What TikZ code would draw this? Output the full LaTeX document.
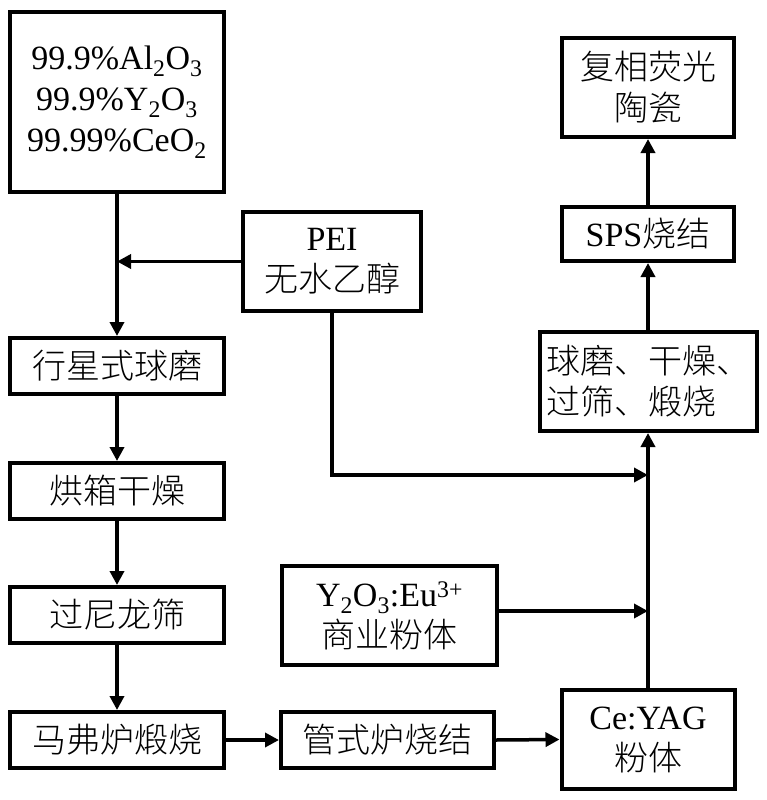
\documentclass[tikz,border=0pt]{standalone}
\usepackage{fontspec}
\setmainfont{Liberation Serif}
\newfontfamily\cjk[UprightFont=* Light]{Noto Sans CJK SC}
\usetikzlibrary{arrows.meta}
\begin{document}
\begin{tikzpicture}[x=1pt,y=-1pt,
  box/.style={draw,line width=4pt,inner sep=0pt,align=center,
    font=\fontsize{34}{41}\selectfont},
  conn/.style={line width=3.5pt,-{Triangle[length=14pt,width=14pt]}}]
\useasboundingbox (0,0) rectangle (766,800);
\node[box,minimum width=214pt,minimum height=179pt] (raw) at (117,102)
  {99.9\%Al\textsubscript{2}O\textsubscript{3}\\99.9\%Y\textsubscript{2}O\textsubscript{3}\\99.99\%CeO\textsubscript{2}};
\node[box,minimum width=178pt,minimum height=99pt] (pei) at (332,261.5)
  {PEI\\{\cjk 无水乙醇}};
\node[box,minimum width=214pt,minimum height=56pt] (planet) at (117,366) {\cjk 行星式球磨};
\node[box,minimum width=214pt,minimum height=56pt] (oven) at (117,491) {\cjk 烘箱干燥};
\node[box,minimum width=214pt,minimum height=56pt] (sieve) at (117,615) {\cjk 过尼龙筛};
\node[box,minimum width=214pt,minimum height=56pt] (muffle) at (117,740) {\cjk 马弗炉煅烧};
\node[box,minimum width=213pt,minimum height=56pt] (tube) at (387.5,740) {\cjk 管式炉烧结};
\node[box,minimum width=173pt,minimum height=99pt] (ceyag) at (648,739.5)
  {Ce:YAG\\{\cjk 粉体}};
\node[box,minimum width=215pt,minimum height=99pt] (eu) at (389.5,615.5)
  {Y\textsubscript{2}O\textsubscript{3}:Eu\textsuperscript{3+}\\{\cjk 商业粉体}};
\node[box,minimum width=217pt,minimum height=99pt,align=left] (mill) at (648,381.5)
  {\cjk 球磨、干燥、\\\cjk 过筛、煅烧};
\node[box,minimum width=172pt,minimum height=54pt] (sps) at (648,234) {SPS{\cjk 烧结}};
\node[box,minimum width=172pt,minimum height=99pt] (final) at (648,87.5)
  {{\cjk 复相荧光}\\{\cjk 陶瓷}};
\coordinate (j1) at (648,475);
\coordinate (j2) at (648,611);
\coordinate (j0) at (117,261.5);
\draw[conn] (raw.south) -- (planet.north);
\draw[conn] (pei.west) -- (j0);
\draw[conn] (planet.south) -- (oven.north);
\draw[conn] (oven.south) -- (sieve.north);
\draw[conn] (sieve.south) -- (muffle.north);
\draw[conn] (muffle.east) -- (tube.west);
\draw[conn] (tube.east) -- (ceyag.west);
\draw[conn] (ceyag.north) -- (mill.south);
\draw[conn] (pei.south) |- (j1);
\draw[conn] (eu.east |- j2) -- (j2);
\draw[conn] (mill.north) -- (sps.south);
\draw[conn] (sps.north) -- (final.south);
\end{tikzpicture}
\end{document}
